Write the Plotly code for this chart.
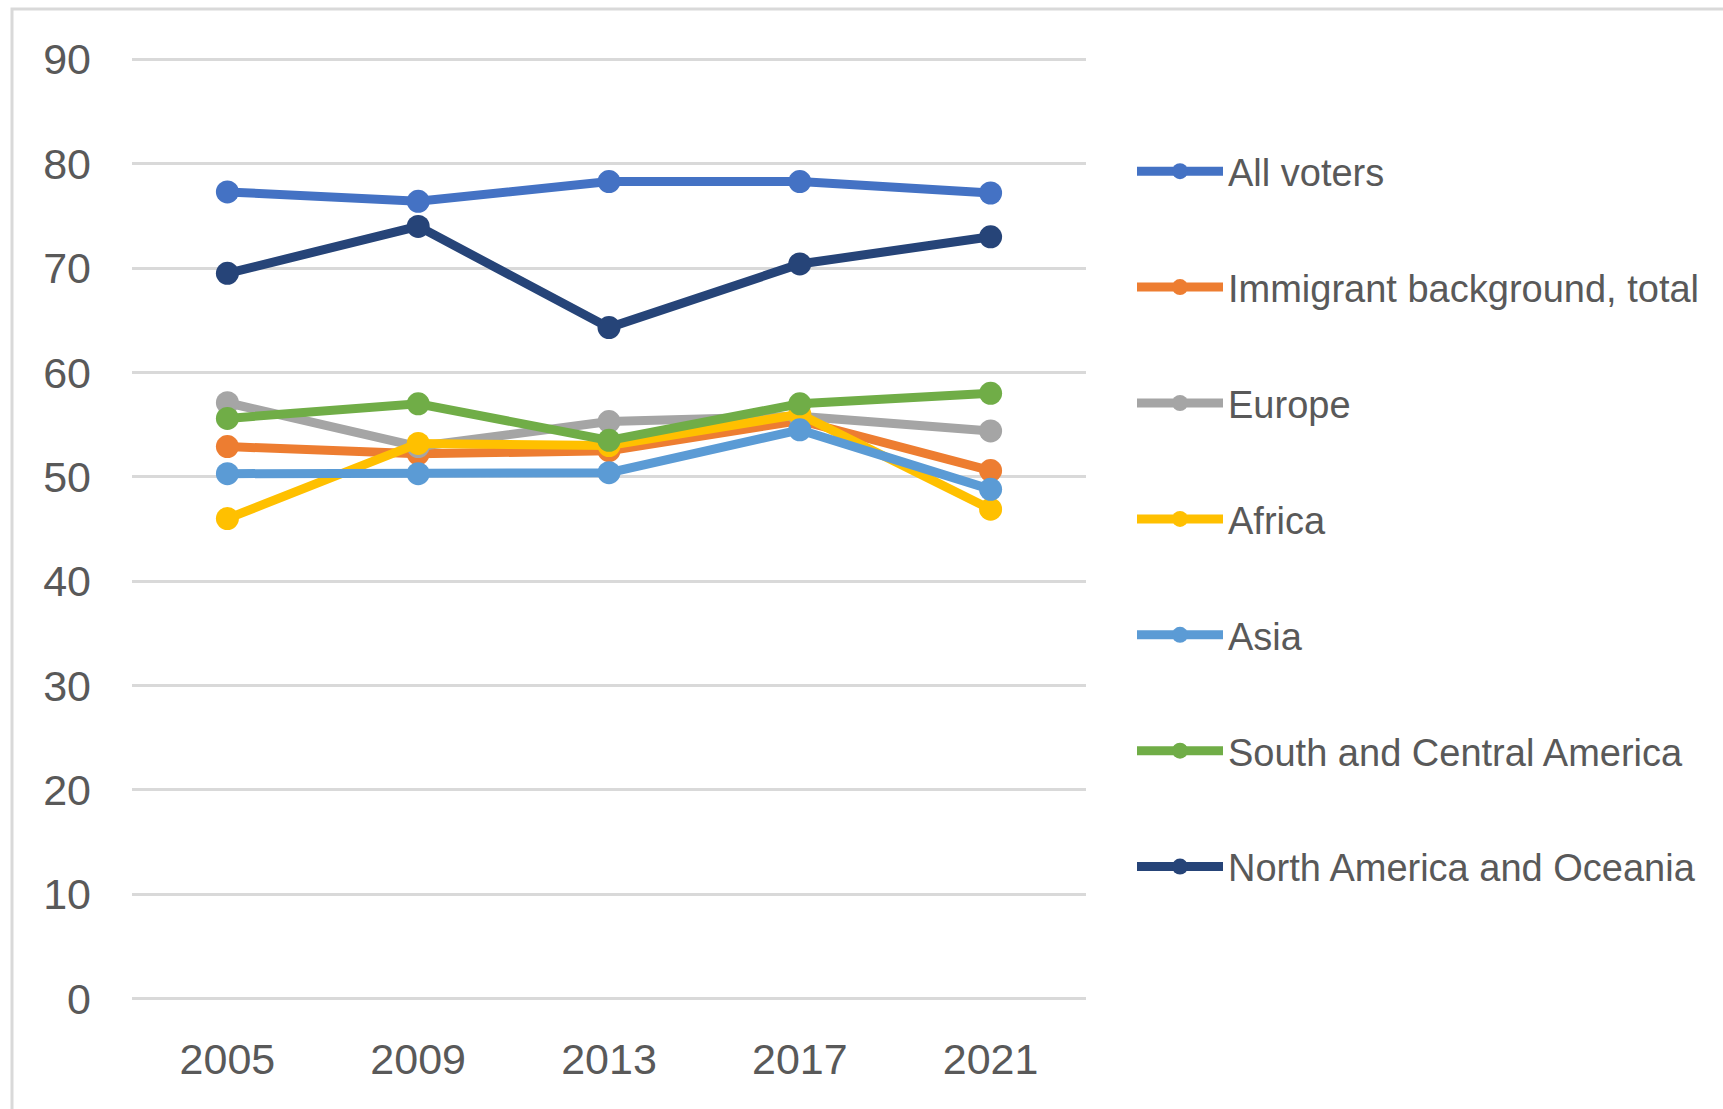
import plotly.graph_objects as go

years = ["2005", "2009", "2013", "2017", "2021"]
all_voters = [77.3, 76.4, 78.3, 78.3, 77.2]
immigrant_total = [52.9, 52.2, 52.5, 55.4, 50.6]
europe = [57.1, 52.9, 55.3, 55.8, 54.4]
africa = [46.0, 53.2, 53.0, 56.0, 46.9]
asia = [50.3, 50.3, 50.4, 54.5, 48.8]
south_central_america = [55.6, 57.0, 53.5, 57.0, 58.0]
north_america_oceania = [69.5, 74.0, 64.3, 70.4, 73.0]

series = [
    ("All voters", all_voters, "#4472C4"),
    ("Immigrant background, total", immigrant_total, "#ED7D31"),
    ("Europe", europe, "#A5A5A5"),
    ("Africa", africa, "#FFC000"),
    ("Asia", asia, "#5B9BD5"),
    ("South and Central America", south_central_america, "#70AD47"),
    ("North America and Oceania", north_america_oceania, "#264478"),
]

fig = go.Figure()
for i, (name, vals, col) in enumerate(series):
    fig.add_trace(go.Scatter(
        x=years, y=vals, name=name, mode="lines+markers",
        line=dict(color=col, width=9),
        marker=dict(color=col, size=23),
        legendgroup=f"g{i}",
    ))

text_col = "#595959"
fig.update_layout(
    width=1723, height=1109,
    margin=dict(l=132, r=637, t=49, b=100),
    paper_bgcolor="white", plot_bgcolor="white",
    font=dict(family="Liberation Sans", color=text_col),
    showlegend=True,
    legend=dict(
        xref="container", yref="container",
        x=1132 / 1723, y=1 - 140 / 1109, xanchor="left", yanchor="top",
        font=dict(size=38, color=text_col, family="Liberation Sans"),
        tracegroupgap=63.5, itemwidth=86, maxheight=1100,
        bgcolor="rgba(0,0,0,0)",
    ),
    xaxis=dict(
        type="category", range=[-0.5, 4.5],
        showgrid=False, showline=False, zeroline=False,
        tickfont=dict(size=43, color=text_col),
        ticks="", ticklabelstandoff=21,
    ),
    yaxis=dict(
        range=[-1, 91], tickvals=[0, 10, 20, 30, 40, 50, 60, 70, 80, 90],
        showgrid=True, gridcolor="#D9D9D9", gridwidth=3,
        showline=False, zeroline=False,
        tickfont=dict(size=43, color=text_col),
        ticks="", ticklabelstandoff=40,
    ),
    shapes=[dict(
        type="rect", xref="paper", yref="paper",
        x0=(12 - 132) / 954, x1=2.0,
        y0=-0.3, y1=(1009 - 9) / 960,
        line=dict(color="#D9D9D9", width=3), fillcolor="rgba(0,0,0,0)",
        layer="below",
    )],
)

fig.write_html("out.html")
